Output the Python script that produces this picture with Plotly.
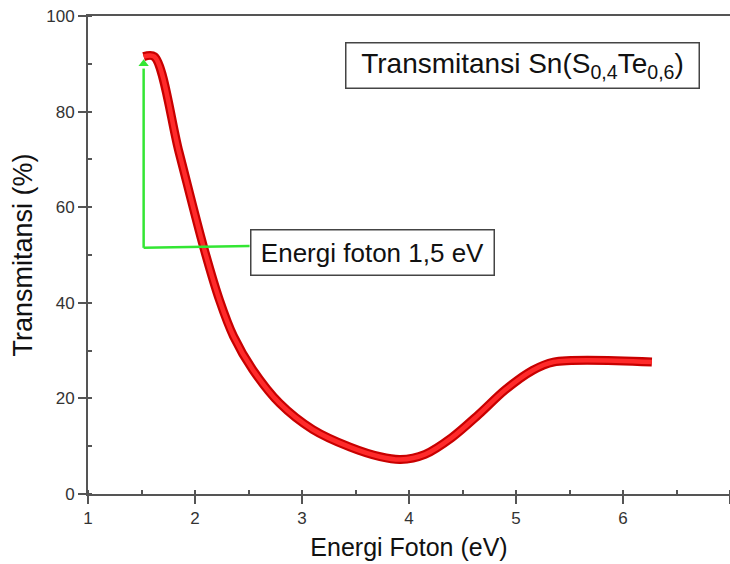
import plotly.graph_objects as go

# Data
energy = [1.52, 1.62, 1.85, 2.08, 2.23, 2.36, 2.54, 2.79, 3.10, 3.45, 3.73,
          3.92, 4.15, 4.40, 4.65, 4.90, 5.15, 5.35, 6.27]
transmit = [91.5, 91.5, 71.6, 51.7, 40.5, 33.0, 26.0, 19.0, 13.5, 9.8, 7.8,
            7.2, 8.3, 11.8, 16.6, 21.8, 25.8, 27.6, 27.6]

x_ticks = [1, 2, 3, 4, 5, 6, 7]
y_ticks = [0, 20, 40, 60, 80, 100]

marker_energy = 1.52
marker_level = 51.5
marker_top = 90.0

FONT = "Liberation Sans, Arial, sans-serif"
AXIS_COLOR = "#555555"
GREEN = "#33e633"

fig = go.Figure()

fig.add_trace(go.Scatter(
    x=energy, y=transmit, mode="lines",
    line=dict(color="#c80000", width=9, shape="spline", smoothing=0.9),
    hoverinfo="skip", showlegend=False))
fig.add_trace(go.Scatter(
    x=energy, y=transmit, mode="lines",
    line=dict(color="#ff2a2a", width=4.5, shape="spline", smoothing=0.9),
    showlegend=False))

# green pointer
fig.add_shape(type="line", xref="x", yref="y",
              x0=marker_energy, y0=marker_level, x1=2.51, y1=51.9,
              line=dict(color=GREEN, width=2.5))
fig.add_shape(type="line", xref="x", yref="y",
              x0=marker_energy, y0=marker_level, x1=marker_energy, y1=marker_top - 1,
              line=dict(color=GREEN, width=2.5))
fig.add_trace(go.Scatter(
    x=[marker_energy], y=[marker_top], mode="markers",
    marker=dict(symbol="triangle-up", size=9, color=GREEN),
    hoverinfo="skip", showlegend=False))

# text boxes
fig.add_annotation(x=5.06, y=89.7, xref="x", yref="y",
                   text="Transmitansi Sn(S<sub>0,4</sub>Te<sub>0,6</sub>)",
                   showarrow=False, font=dict(family=FONT, size=28, color="#111111"),
                   bordercolor="#444444", borderwidth=1.5, borderpad=0,
                   width=352, height=44, bgcolor="white", align="center")
fig.add_annotation(x=3.66, y=50.6, xref="x", yref="y",
                   text="Energi foton 1,5 eV",
                   showarrow=False, font=dict(family=FONT, size=26, color="#111111"),
                   bordercolor="#444444", borderwidth=1.5, borderpad=0,
                   width=242, height=44, bgcolor="white", align="center")

fig.update_xaxes(
    range=[1, 7], tickvals=x_ticks, ticktext=[str(v) for v in x_ticks],
    showline=True, linecolor=AXIS_COLOR, linewidth=2, mirror=True,
    ticks="outside", ticklen=8, tickwidth=2, tickcolor=AXIS_COLOR,
    minor=dict(dtick=0.5, ticks="inside", ticklen=4, tickwidth=2, tickcolor=AXIS_COLOR),
    showgrid=False, zeroline=False,
    tickfont=dict(family=FONT, size=17, color="#333333"),
    title=dict(text="Energi Foton (eV)", font=dict(family=FONT, size=25, color="#111111"),
               standoff=11))
fig.update_yaxes(
    range=[0, 100], tickvals=y_ticks, ticktext=[str(v) for v in y_ticks],
    showline=True, linecolor=AXIS_COLOR, linewidth=2, mirror=False,
    ticks="outside", ticklen=8, tickwidth=2, tickcolor=AXIS_COLOR,
    minor=dict(dtick=10, ticks="inside", ticklen=4, tickwidth=2, tickcolor=AXIS_COLOR),
    showgrid=False, zeroline=False,
    tickfont=dict(family=FONT, size=17, color="#333333"),
    title=dict(text="Transmitansi (%)", font=dict(family=FONT, size=27, color="#111111"),
               standoff=6))

fig.update_layout(
    width=730, height=564,
    margin=dict(l=88, r=0, t=16, b=70),
    plot_bgcolor="white", paper_bgcolor="white",
    showlegend=False)

fig.write_html("out.html")
